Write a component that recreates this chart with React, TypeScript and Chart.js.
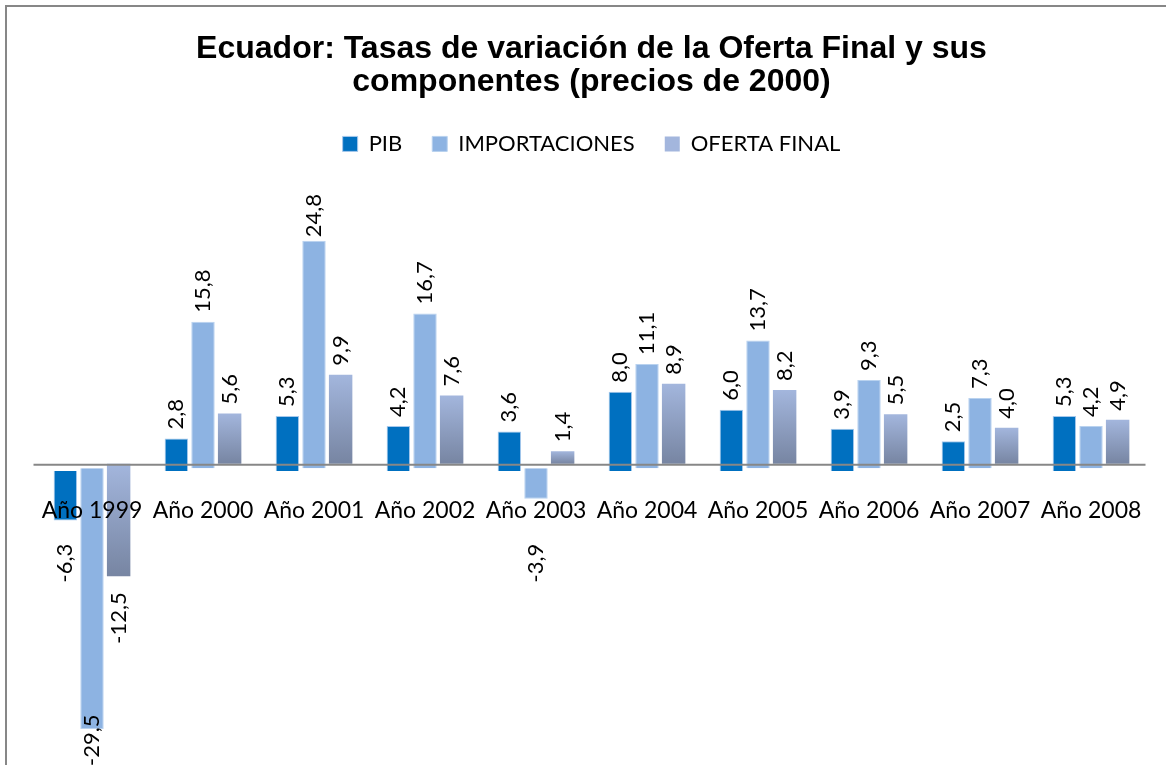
import React, { useEffect, useRef } from "react";
import { Chart, registerables } from "chart.js";

Chart.register(...registerables);

const categories = [
  "Año 1999", "Año 2000", "Año 2001", "Año 2002", "Año 2003",
  "Año 2004", "Año 2005", "Año 2006", "Año 2007", "Año 2008",
];
const pib = [-6.3, 2.8, 5.3, 4.2, 3.6, 8.0, 6.0, 3.9, 2.5, 5.3];
const importaciones = [-29.5, 15.8, 24.8, 16.7, -3.9, 11.1, 13.7, 9.3, 7.3, 4.2];
const ofertaFinal = [-12.5, 5.6, 9.9, 7.6, 1.4, 8.9, 8.2, 5.5, 4.0, 4.9];
const seriesNames = ["PIB", "IMPORTACIONES", "OFERTA FINAL"];
const titleLines = [
  "Ecuador: Tasas de variación de la Oferta Final y sus",
  "componentes (precios de 2000)",
];

const LABEL_FONT = '22px Lato, "Noto Sans", sans-serif';
const CAT_FONT = '23px Lato, "Noto Sans", sans-serif';

const fmt = (v: number) => v.toFixed(1).replace(".", ",");

const ofertaGradient = (c: any) => {
  const chart = c.chart;
  const { ctx, chartArea, scales } = chart;
  if (!chartArea || c.type !== "data" || !scales || !scales.y) return "#8E9EC0";
  const v = c.parsed ? c.parsed.y : c.raw;
  const y0 = scales.y.getPixelForValue(0);
  const y1 = scales.y.getPixelForValue(v);
  const top = Math.min(y0, y1);
  const bot = Math.max(y0, y1);
  const g = ctx.createLinearGradient(0, top, 0, bot + 0.01);
  g.addColorStop(0, "#A3B6DD");
  g.addColorStop(1, "#7785A2");
  return g;
};

const labelsPlugin = {
  id: "customLabels",
  afterDatasetsDraw(chart: any) {
    const { ctx, chartArea, scales } = chart;
    const x = scales.x;
    const y = scales.y;
    const zeroY = y.getPixelForValue(0);
    ctx.save();
    // zero line
    ctx.strokeStyle = "#878787";
    ctx.lineWidth = 2;
    ctx.beginPath();
    ctx.moveTo(chartArea.left - 3, zeroY + 1);
    ctx.lineTo(chartArea.right - 1, zeroY + 1);
    ctx.stroke();

    // category labels
    ctx.font = CAT_FONT;
    ctx.fillStyle = "#000";
    ctx.textAlign = "center";
    ctx.textBaseline = "middle";
    categories.forEach((c, i) => {
      ctx.fillText(c, x.getPixelForValue(i), zeroY + 47);
    });

    // value labels
    ctx.font = LABEL_FONT;
    chart.data.datasets.forEach((ds: any, di: number) => {
      const meta = chart.getDatasetMeta(di);
      meta.data.forEach((bar: any, i: number) => {
        const v = ds.data[i];
        const text = fmt(v);
        const w = ctx.measureText(text).width;
        const p = bar.getProps(["x", "y"], true);
        ctx.save();
        if (v >= 0) {
          let anchor = p.y - 9;
          if (anchor - w < chartArea.top) anchor = chartArea.top + w;
          ctx.translate(p.x, anchor);
          ctx.rotate(-Math.PI / 2);
          ctx.textAlign = "left";
        } else {
          let anchor = Math.max(p.y + 16, zeroY + 80);
          if (anchor + w > chartArea.bottom) anchor = chartArea.bottom - w;
          ctx.translate(p.x, anchor);
          ctx.rotate(-Math.PI / 2);
          ctx.textAlign = "right";
        }
        ctx.textBaseline = "middle";
        ctx.fillText(text, 0, 0);
        ctx.restore();
      });
    });
    ctx.restore();
  },
};

export default function App() {
  const canvasRef = useRef<HTMLCanvasElement | null>(null);

  useEffect(() => {
    let chart: Chart | null = null;
    let cancelled = false;
    const build = () => {
      if (cancelled || !canvasRef.current) return;
      chart = new Chart(canvasRef.current, {
        type: "bar",
        data: {
          labels: categories,
          datasets: [
            {
              label: seriesNames[0],
              data: pib,
              backgroundColor: "#0070C0",
              borderColor: "#A6C8EC",
              borderWidth: 1,
              base: -0.8,
            } as any,
            {
              label: seriesNames[1],
              data: importaciones,
              backgroundColor: "#8DB3E2",
              borderColor: "#B9D2EF",
              borderWidth: 1,
              base: -0.5,
            } as any,
            {
              label: seriesNames[2],
              data: ofertaFinal,
              backgroundColor: ofertaGradient,
              borderWidth: 0,
            },
          ],
        },
        options: {
          responsive: false,
          maintainAspectRatio: false,
          animation: false,
          events: [],
          datasets: {
            bar: {
              categoryPercentage: 0.72,
              barPercentage: 0.88,
            },
          },
          layout: {
            padding: { left: 29.5, right: 30.5, top: 0, bottom: 1 },
          },
          scales: {
            x: {
              display: true,
              position: "top",
              grid: { display: false },
              border: { display: false },
              ticks: { display: false },
              afterFit: (s: any) => {
                s.height = 29;
              },
            },
            y: { display: false, min: -33.6, max: 30 },
          },
          plugins: {
            title: {
              display: true,
              text: titleLines,
              color: "#000",
              font: {
                family: '"Liberation Sans", Arial, sans-serif',
                size: 32,
                weight: "bold",
                lineHeight: 1.03,
              },
              padding: { top: 26, bottom: 4 },
            },
            legend: {
              display: true,
              labels: {
                boxWidth: 15,
                boxHeight: 15,
                padding: 30,
                color: "#000",
                font: { family: 'Lato, "Noto Sans", sans-serif', size: 22 },
              },
            },
            tooltip: { enabled: false },
          },
        },
        plugins: [labelsPlugin],
      });
    };
    const fontsReady = (document as any).fonts
      ? Promise.all([
          (document as any).fonts.load(LABEL_FONT),
          (document as any).fonts.load(CAT_FONT),
          (document as any).fonts.load('bold 32px "Liberation Sans"'),
        ]).catch(() => null)
      : Promise.resolve(null);
    fontsReady.then(build);
    return () => {
      cancelled = true;
      if (chart) chart.destroy();
    };
  }, []);

  return (
    <div
      style={{
        position: "fixed",
        left: 0,
        top: 0,
        width: 1166,
        height: 765,
        overflow: "hidden",
        background: "#fff",
      }}
    >
      <div
        style={{
          position: "absolute",
          left: 5,
          top: 5,
          width: 1170,
          height: 760,
          border: "2px solid #878787",
          background: "#fff",
        }}
      >
        <canvas
          ref={canvasRef}
          width={1170}
          height={760}
          style={{ display: "block", width: 1170, height: 760 }}
        />
      </div>
    </div>
  );
}
